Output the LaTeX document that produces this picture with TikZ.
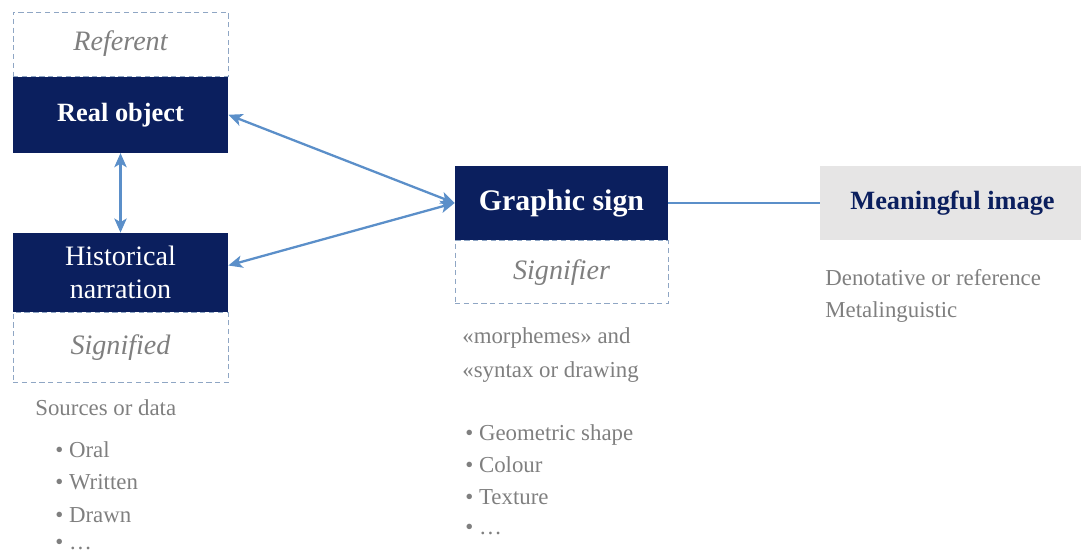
\documentclass[tikz,border=0pt]{standalone}
\usepackage{fontspec}
\setmainfont{Liberation Serif}
\usetikzlibrary{arrows.meta, positioning}
\definecolor{signNavy}{HTML}{0B1F5E}
\definecolor{linkBlue}{HTML}{5B8FC9}
\definecolor{dashBlue}{HTML}{8FA6C4}
\definecolor{inkGrey}{HTML}{7F7F7F}
\definecolor{paneGrey}{HTML}{E6E5E5}
\tikzset{
  sign/.style={fill=signNavy, text=white, minimum width=4.3cm, inner sep=0pt,
               align=center, font=\fontsize{16}{19}\selectfont},
  tag/.style={draw=dashBlue, densely dashed, line width=0.5pt, fill=white,
              minimum width=4.3cm, inner sep=0pt, text=inkGrey,
              font=\fontsize{16}{19}\selectfont\itshape},
  link/.style={{Stealth[length=8pt,width=7pt,inset=2pt]}-{Stealth[length=8pt,width=7pt,inset=2pt]},
               draw=linkBlue, line width=1.3pt},
  note/.style={anchor=west, inner sep=0pt, text=inkGrey,
               font=\fontsize{13}{15}\selectfont},
}

\begin{document}
\begin{tikzpicture}
\useasboundingbox (0,0) rectangle (21.62,11.12);
% referent / signified column
\node[tag, minimum height=1.28cm] (referent) at (2.41,10.24) {Referent};
\node[sign, minimum height=1.52cm, font=\fontsize{15}{18}\selectfont\bfseries,
      below=0pt of referent] (real) {Real object};
\node[sign, minimum height=1.58cm] (hist) at (2.41,5.67) {Historical\\narration};
\node[tag, minimum height=1.40cm, below=0pt of hist] (signified) {Signified};
% graphic sign and its signifier
\node[sign, minimum width=4.26cm, minimum height=1.48cm,
      font=\fontsize{17}{20}\selectfont\bfseries] (graphic) at (11.23,7.06) {Graphic sign};
\node[tag, minimum width=4.26cm, minimum height=1.26cm, below=0pt of graphic] (signifier) {Signifier};
% meaningful image
\node[fill=paneGrey, minimum width=5.3cm, minimum height=1.48cm, inner sep=0pt,
      text=signNavy, font=\fontsize{15}{18}\selectfont\bfseries] (image) at (19.05,7.06) {Meaningful image};

\draw[link] (real.south) -- (hist.north);
\draw[link] (real.east) -- (graphic.west);
\draw[link] ([yshift=0.14cm]hist.east) -- (graphic.west);
\draw[linkBlue, line width=1.3pt] (graphic.east) -- (image.west);

% sources
\node[note] (src0) at (0.70,2.96) {Sources or data};
\node[note] (src1) at (1.10,2.12) {\textbullet\ Oral};
\node[note] (src2) at (1.10,1.48) {\textbullet\ Written};
\node[note] (src3) at (1.10,0.82) {\textbullet\ Drawn};
\node[note] (src4) at (1.10,0.22) {\textbullet\ \dots};
% morphemes and syntax
\node[note] (mor1) at (9.24,4.36) {«morphemes» and};
\node[note] (mor2) at (9.24,3.68) {«syntax or drawing};
\node[note] (geo1) at (9.30,2.42) {\textbullet\ Geometric shape};
\node[note] (geo2) at (9.30,1.82) {\textbullet\ Colour};
\node[note] (geo3) at (9.30,1.18) {\textbullet\ Texture};
\node[note] (geo4) at (9.30,0.52) {\textbullet\ \dots};
% image readings
\node[note] (den1) at (16.50,5.56) {Denotative or reference};
\node[note] (den2) at (16.50,4.88) {Metalinguistic};
\end{tikzpicture}
\end{document}
